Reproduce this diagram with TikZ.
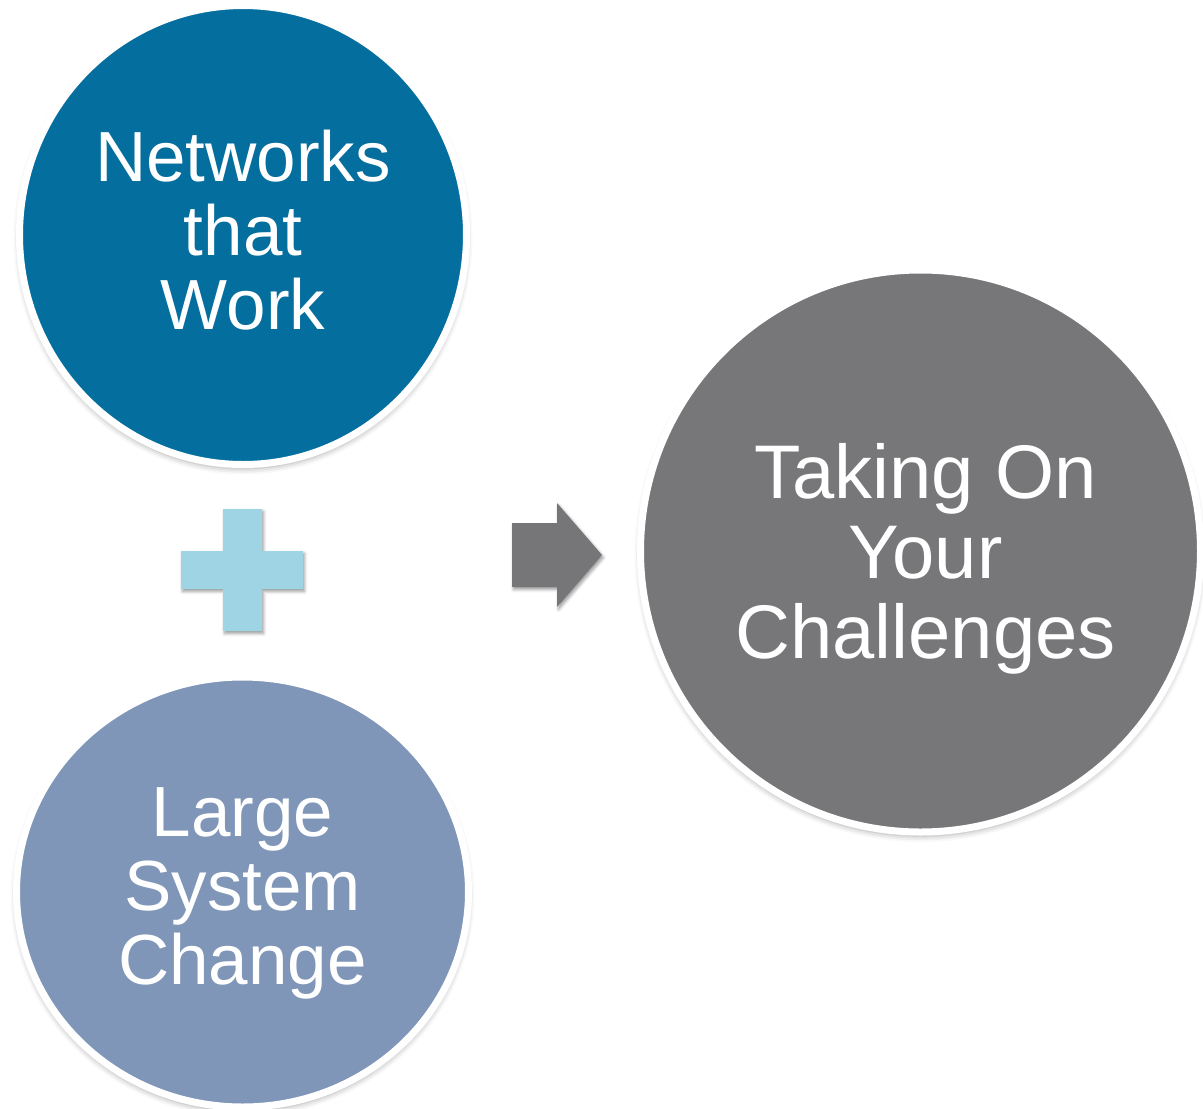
\documentclass[tikz,border=0pt]{standalone}
\usepackage{fontspec}
\setmainfont{Liberation Sans}
\usetikzlibrary{shapes.geometric,shadows.blur}

\definecolor{netblue}{RGB}{4,110,158}
\definecolor{sysblue}{RGB}{127,150,184}
\definecolor{chalgray}{RGB}{119,119,122}
\definecolor{arrowgray}{RGB}{118,118,120}
\definecolor{plusblue}{RGB}{158,212,227}

\tikzset{
  bubble/.style={ellipse, inner sep=0pt, outer sep=0pt, draw=white,
    line width=7pt,
    blur shadow={shadow xshift=0pt, shadow yshift=-4pt,
      shadow blur radius=6pt, shadow opacity=35}},
  bubbletext/.style={inner sep=0pt, text=white, align=center},
  smallshadow/.style={blur shadow={shadow xshift=1.5pt, shadow yshift=-2.5pt,
      shadow blur radius=3pt, shadow opacity=40}},
  leftfont/.style={font=\fontsize{71pt}{74pt}\selectfont},
  rightfont/.style={font=\fontsize{76pt}{80pt}\selectfont}
}

\begin{document}
\begin{tikzpicture}[x=1pt,y=-1pt]
  \useasboundingbox (0,0) rectangle (1203,1109);
  \clip (0,0) rectangle (1203,1109);

  % the two inputs
  \node[bubble, fill=netblue, minimum width=447pt, minimum height=459pt]
    (net) at (243,235) {};
  \node[bubbletext, leftfont] (nettext) at ([shift={(0,-4.5)}]net.center)
    {Networks\\that\\Work};

  \node[bubble, fill=sysblue, minimum width=452pt, minimum height=430pt]
    (sys) at (242.5,892) {};
  \node[bubbletext, leftfont] (systext) at ([shift={(0,1.5)}]sys.center)
    {Large\\System\\Change};

  % the result
  \node[bubble, fill=chalgray, minimum width=560pt, minimum height=562pt]
    (chal) at (920.5,551) {};
  \node[bubbletext, rightfont] (chaltext) at ([shift={(5,8)}]chal.center)
    {Taking On\\Your\\Challenges};

  % plus sign between the inputs
  \fill[plusblue, smallshadow]
    (223,509) -- (262,509) -- (262,551) -- (303,551) -- (303,589) -- (262,589)
    -- (262,631) -- (223,631) -- (223,589) -- (181,589) -- (181,551) -- (223,551)
    -- cycle;

  % block arrow towards the result
  \fill[arrowgray, smallshadow]
    (512,523) -- (557,523) -- (557,503) -- (602,555) -- (557,607) -- (557,587)
    -- (512,587) -- cycle;
\end{tikzpicture}
\end{document}
